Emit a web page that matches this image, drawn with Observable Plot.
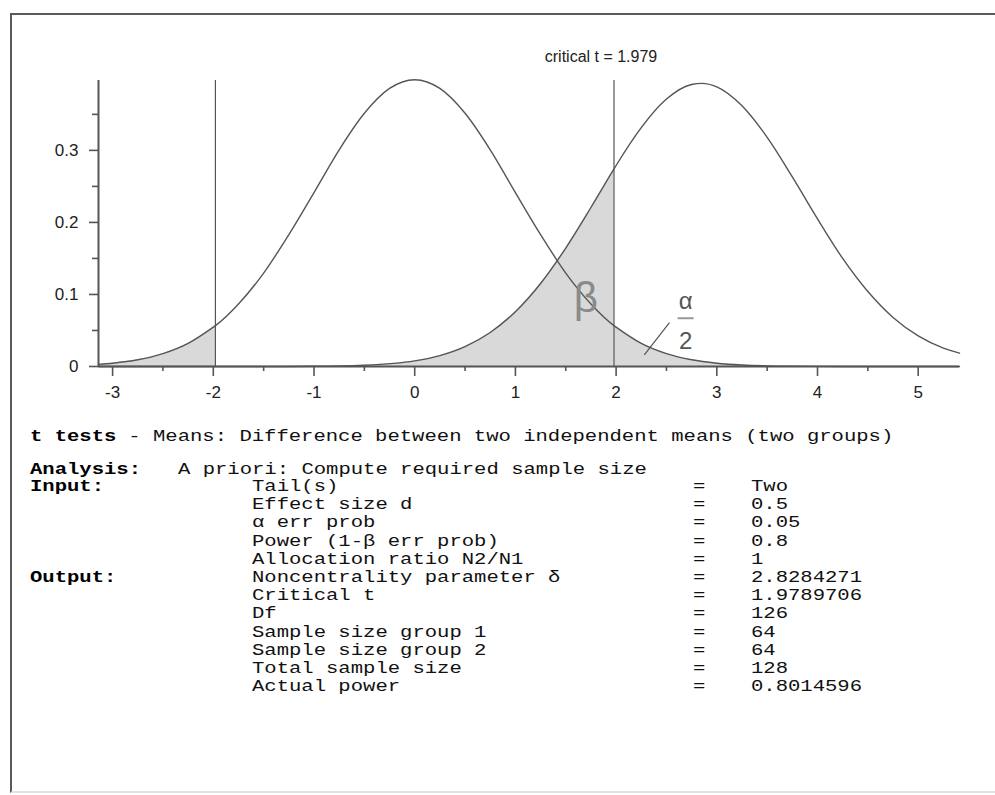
<!DOCTYPE html>
<html>
<head>
<meta charset="utf-8">
<script src="https://cdn.jsdelivr.net/npm/d3@7"></script>
<script src="https://cdn.jsdelivr.net/npm/@observablehq/plot@0.6"></script>
<style>
  html, body { margin: 0; padding: 0; background: #fff; }
  #page { position: relative; width: 995px; height: 795px; overflow: hidden; background:#fff; }
  #frame { position: absolute; left: 10px; top: 13px; width: 1000px; height: 776px;
           border-left: 2px solid #5a5a5a; border-top: 2px solid #5a5a5a; border-bottom: 2px solid #e2e2e2; }
  #chart { position: absolute; left: 0; top: 0; }
  #report { position: absolute; left: 0; top: 0; font-family: "Liberation Mono", "Courier New", monospace;
            font-size: 16px; color: #111; }
  #report span { position: absolute; white-space: pre; transform: scaleX(1.285); transform-origin: left center; line-height: 18px; }
  #report .b { font-weight: bold; color: #000; }
</style>
</head>
<body>
<div id="page">
  <div id="frame"></div>
  <div id="chart"></div>
  <div id="report"></div>
</div>
<script>
// ---- data ----
const criticalT = 1.979;
const xMajorTicks = [-3, -2, -1, 0, 1, 2, 3, 4, 5];
const xMinorTicks = [-2.5, -1.5, -0.5, 0.5, 1.5, 2.5, 3.5, 4.5];
const yMajorTicks = [0, 0.1, 0.2, 0.3];
const yMinorTicks = [0.05, 0.15, 0.25, 0.35];

// central t distribution (H0)
const centralX = [-3.14, -3, -2.75, -2.5, -2.25, -2, -1.979, -1.75, -1.5, -1.25, -1, -0.75, -0.5, -0.25, 0,
                  0.25, 0.5, 0.75, 1, 1.25, 1.5, 1.75, 1.979, 2, 2.25, 2.5, 2.75, 3, 3.25, 3.5, 3.75, 4, 4.5, 5, 5.41];
const centralY = [0.0030, 0.0046, 0.0093, 0.0178, 0.0320, 0.0546, 0.0567, 0.0868, 0.1297, 0.1830, 0.2414, 0.3008, 0.3515, 0.3860, 0.3981,
                  0.3860, 0.3515, 0.3008, 0.2414, 0.1830, 0.1297, 0.0868, 0.0567, 0.0546, 0.0320, 0.0178, 0.0093, 0.0046, 0.0021, 0.0009, 0.0004, 0.0002, 0.00003, 0, 0];

// noncentral t distribution (H1)
const noncentralX = [-3.14, -2, -1.5, -1, -0.5, 0, 0.25, 0.5, 0.75, 1, 1.25, 1.5, 1.75, 1.979, 2, 2.25, 2.5, 2.75, 2.85,
                     3, 3.25, 3.5, 3.75, 4, 4.25, 4.5, 4.75, 5, 5.25, 5.41];
const noncentralY = [0, 0, 0.00004, 0.0003, 0.0018, 0.0078, 0.0152, 0.0276, 0.0472, 0.0760, 0.1152, 0.1644, 0.2207, 0.2742, 0.2790, 0.3316, 0.3712, 0.3915, 0.3930,
                     0.3882, 0.3619, 0.3181, 0.2632, 0.2049, 0.1500, 0.1040, 0.0680, 0.0425, 0.0255, 0.0185];

// report text
const reportTitle = "t tests";
const reportSubtitle = " - Means: Difference between two independent means (two groups)";
const analysisLabel = "Analysis:";
const analysisText = "A priori: Compute required sample size";
const sectionLabels = ["Input:", "", "", "", "", "Output:", "", "", "", "", "", ""];
const paramNames = ["Tail(s)", "Effect size d", "α err prob", "Power (1-β err prob)", "Allocation ratio N2/N1",
                    "Noncentrality parameter δ", "Critical t", "Df", "Sample size group 1", "Sample size group 2",
                    "Total sample size", "Actual power"];
const paramValues = ["Two", "0.5", "0.05", "0.8", "1", "2.8284271", "1.9789706", "126", "64", "64", "128", "0.8014596"];

// ---- build ----
const central = centralX.map((x, i) => ({x, y: centralY[i]}));
const noncentral = noncentralX.map((x, i) => ({x, y: noncentralY[i]}));

const ink = "#555";
const shade = "#d9d9d9";
const fontAxis = "'Liberation Sans Narrow', 'Liberation Sans', Arial, sans-serif";
const xMin = -3.14;

const plot = Plot.plot({
  width: 995,
  height: 412,
  marginLeft: 98,
  marginRight: 36,
  marginTop: 80,
  marginBottom: 46,
  style: {fontFamily: fontAxis, fontSize: "16px", color: "#222", background: "transparent"},
  x: {domain: [xMin, 5.41], axis: null},
  y: {domain: [0, 0.397], axis: null},
  marks: [
    Plot.areaY(central.filter(d => d.x <= -criticalT), {x: "x", y: "y", fill: shade, curve: "monotone-x"}),
    Plot.areaY(noncentral.filter(d => d.x <= criticalT), {x: "x", y: "y", fill: shade, curve: "monotone-x"}),
    Plot.areaY(central.filter(d => d.x >= criticalT), {x: "x", y: "y", fill: shade, curve: "monotone-x"}),
    Plot.lineY(central, {x: "x", y: "y", stroke: ink, strokeWidth: 1.4, curve: "monotone-x"}),
    Plot.lineY(noncentral, {x: "x", y: "y", stroke: ink, strokeWidth: 1.4, curve: "monotone-x"}),
    Plot.ruleX([-criticalT, criticalT], {y1: 0, y2: 0.397, stroke: ink, strokeWidth: 1.2}),
    // axes lines
    Plot.ruleY([0], {stroke: ink, strokeWidth: 2}),
    Plot.ruleX([xMin], {y1: 0, y2: 0.397, stroke: ink, strokeWidth: 2}),
    // ticks
    Plot.axisX({ticks: xMajorTicks, tickSize: 10, stroke: ink, strokeWidth: 1.6, label: null, text: null}),
    Plot.axisX({ticks: xMinorTicks, tickSize: 5, stroke: ink, strokeWidth: 1.6, label: null, text: null}),
    Plot.axisY({ticks: yMajorTicks, tickSize: 9, stroke: ink, strokeWidth: 1.6, label: null, text: null}),
    Plot.axisY({ticks: yMinorTicks, tickSize: 6, stroke: ink, strokeWidth: 1.6, label: null, text: null}),
    // tick labels
    Plot.text(xMajorTicks, {x: d => d, y: 0, dy: 26, text: d => String(d), fontSize: 17, fill: "#222"}),
    Plot.text(yMajorTicks, {x: xMin, y: d => d, dx: -20, text: d => String(d), textAnchor: "end", fontSize: 17, fill: "#222"}),
    // annotations
    Plot.text([`critical t = ${criticalT}`], {x: criticalT, y: 0.397, dy: -24, dx: -13, fontSize: 16, fill: "#222"}),
    Plot.text(["β"], {x: 1.70, y: 0.094, fontSize: 42, fill: "#8a8a8a", fontFamily: fontAxis}),
    Plot.text(["α"], {x: 2.69, y: 0.091, fontSize: 24, fill: ink}),
    Plot.text(["2"], {x: 2.69, y: 0.035, fontSize: 24, fill: ink}),
    Plot.link([[2.61, 0.067, 2.77, 0.067]], {x1: d => d[0], y1: d => d[1], x2: d => d[2], y2: d => d[3], stroke: "#999", strokeWidth: 2}),
    Plot.link([[2.28, 0.016, 2.53, 0.061]], {x1: d => d[0], y1: d => d[1], x2: d => d[2], y2: d => d[3], stroke: ink, strokeWidth: 1.2})
  ]
});
document.getElementById("chart").appendChild(plot);

// ---- report text block ----
const rep = document.getElementById("report");
function put(text, x, y, bold) {
  const s = document.createElement("span");
  s.textContent = text;
  s.style.left = x + "px";
  s.style.top = (y - 9) + "px";
  if (bold) s.className = "b";
  rep.appendChild(s);
  return s;
}
const charW = 9.6 * 1.285;
put(reportTitle, 30, 437, true);
put(reportSubtitle, 30 + reportTitle.length * charW, 437, false);
put(analysisLabel, 30, 470, true);
put(analysisText, 30 + 12 * charW, 470, false);
const rowY0 = 487, rowStep = 18.2;
paramNames.forEach((name, i) => {
  const y = rowY0 + i * rowStep;
  if (sectionLabels[i]) put(sectionLabels[i], 30, y, true);
  put(name, 30 + 18 * charW, y, false);
  put("=", 693, y, false);
  put(paramValues[i], 751, y, false);
});
</script>
</body>
</html>
